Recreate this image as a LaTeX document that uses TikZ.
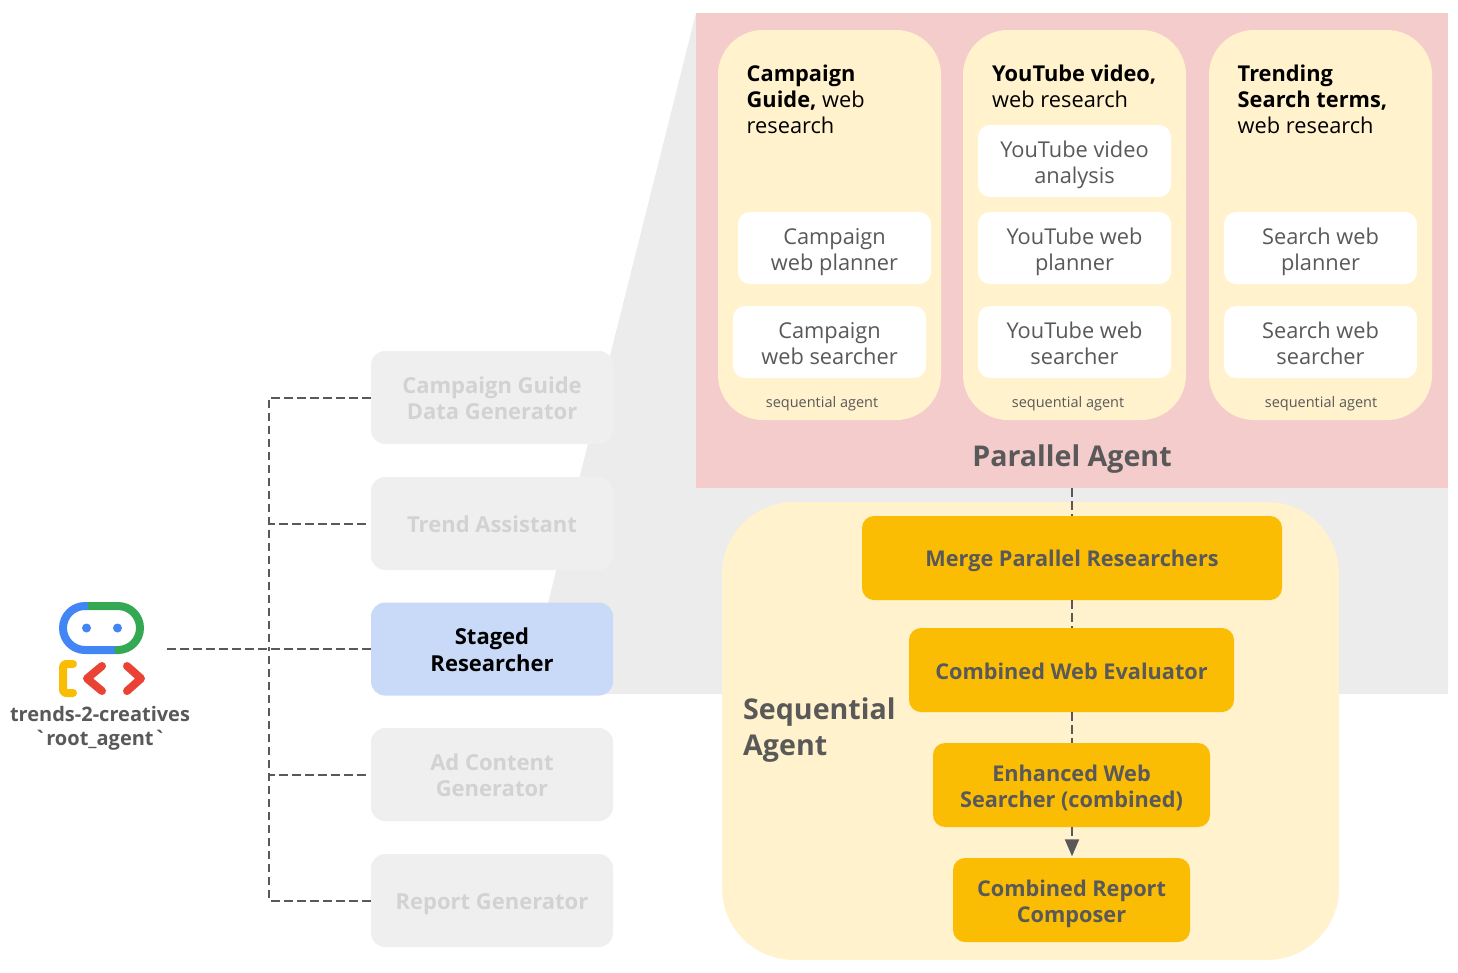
\documentclass[tikz,border=0pt]{standalone}
\usepackage{fontspec}
\setmainfont{Open Sans}
\newfontfamily\rawticks{Open Sans}
\usepackage{tikz}
\usetikzlibrary{arrows.meta,positioning}
\definecolor{inkgray}{HTML}{595959}
\definecolor{fadedink}{HTML}{D2D2D2}
\definecolor{fadedbox}{HTML}{EFEFEF}
\definecolor{bandgray}{HTML}{ECECEC}
\definecolor{parpink}{HTML}{F4CCCC}
\definecolor{seqcream}{HTML}{FFF2CC}
\definecolor{seqamber}{HTML}{FBBC04}
\definecolor{stagedblue}{HTML}{C9DAF8}
\definecolor{logoblue}{HTML}{4285F4}
\definecolor{logogreen}{HTML}{34A853}
\definecolor{logored}{HTML}{EA4335}
\begin{document}
\begin{tikzpicture}[
      x=1pt, y=-1pt,
      box/.style={rounded corners=14pt, align=center, inner sep=0pt,
                  execute at begin node={\rule{0pt}{23pt}},
                  execute at end node={\rule[-5pt]{0pt}{5pt}}},
      twoline/.style={execute at begin node={\rule{0pt}{#1}}},
      twoline/.default=50pt,
      subagent/.style={box, fill=fadedbox, text=fadedink, font=\fontsize{22}{26}\selectfont\bfseries,
                       minimum width=242pt, minimum height=93pt},
      researcher/.style={rounded corners=45pt, fill=seqcream, inner sep=0pt,
                         minimum width=223pt, minimum height=390pt},
      tool/.style={box, twoline, rounded corners=12pt, fill=white, text=inkgray,
                   font=\fontsize{21.8}{26}\selectfont, minimum width=193pt, minimum height=72pt},
      stepbox/.style={box, rounded corners=12pt, fill=seqamber, text=inkgray,
                      font=\fontsize{21.7}{26}\selectfont\bfseries, minimum height=84pt},
      heading/.style={anchor=north west, align=left, inner sep=0pt, text=black,
                      font=\fontsize{21.8}{26}\selectfont},
      tag/.style={text=inkgray, inner sep=0pt, font=\fontsize{14.5}{17}\selectfont},
      title/.style={text=inkgray, inner sep=0pt, font=\fontsize{28.6}{36}\selectfont\bfseries},
      dashline/.style={inkgray, line width=2pt, dash pattern=on 8.5pt off 4.5pt},
      logopen/.style={line width=8pt, line cap=round, line join=round},
    ]
    \useasboundingbox (0,0) rectangle (1458,972);

    % --- grey band behind the zoomed agent ---------------------------------
    \fill[bandgray] (696,13) -- (548,603) -- (548,694) -- (1448,694) -- (1448,488) -- (696,488) -- cycle;

    % --- logo --------------------------------------------------------------
    \draw[logopen, logoblue, line cap=butt, rounded corners=22pt] (88,606) -- (63,606) -- (63,650) -- (119,650);
    \draw[logopen, logogreen, line cap=butt, rounded corners=22pt] (88,606) -- (140,606) -- (140,650) -- (119,650);
    \fill[logoblue] (86.5,628) circle[radius=4.5] (117.5,628) circle[radius=4.5];
    \draw[logopen, seqamber, rounded corners=3pt] (73,664) -- (63,664) -- (63,693) -- (73,693);
    \draw[logopen, logored] (102,666) -- (87,678.5) -- (102,691);
    \draw[logopen, logored] (127,666) -- (141,678.5) -- (127,691);
    \node[text=inkgray, align=center, inner sep=0pt, font=\fontsize{20}{24}\selectfont\rawticks\bfseries] (rootname)
      at (100,728) {trends-2-creatives\\`root\_agent`};

    % --- sub agents of the root ---------------------------------------------
    \node[subagent, twoline=48pt] (guide)  at (492,397.5) {Campaign Guide\\Data Generator};
    \node[subagent] (trend)  at (492,523.5) {Trend Assistant};
    \node[subagent, twoline=50pt, fill=stagedblue, text=black, font=\fontsize{22}{27}\selectfont\bfseries] (staged) at (492,649) {Staged\\Researcher};
    \node[subagent, twoline=48pt] (adgen)  at (492,774.5) {Ad Content\\Generator};
    \node[subagent] (report) at (492,900.5) {Report Generator};

    \coordinate (logoport) at (167,649);
    \coordinate (bus) at (269,649);
    \draw[dashline] (logoport) -- (staged.west);
    \draw[dashline] (guide.west) -| (bus);
    \draw[dashline] (report.west) -| (bus);
    \draw[dashline] ([xshift=-5pt]trend.west) -- (trend.west -| bus);
    \draw[dashline] ([xshift=-5pt]adgen.west) -- (adgen.west -| bus);

    % --- parallel agent ------------------------------------------------------
    \node[fill=parpink, inner sep=0pt, minimum width=752pt, minimum height=475pt] (parallel) at (1072,250.5) {};
    \node[title] (partitle) at (1072,459) {Parallel Agent};

    \node[researcher] (guidecol) at (829.5,225) {};
    \node[researcher] (videocol) at (1074.5,225) {};
    \node[researcher] (searchcol) at (1320.5,225) {};

    \node[heading] (guidehead) at (746.5,65) {\textbf{Campaign}\\\textbf{Guide,} web\\research};
    \node[heading] (videohead) at (992,65) {\textbf{YouTube video,}\\web research};
    \node[heading] (searchhead) at (1237.5,65) {\textbf{Trending}\\\textbf{Search terms,}\\web research};

    \node[tool] (guideplan) at (834.5,248) {Campaign\\web planner};
    \node[tool] (guidesearch) at (829.5,342) {Campaign\\web searcher};
    \node[tool] (videoscan) at (1074.5,161) {YouTube video\\analysis};
    \node[tool] (videoplan) at (1074.5,248) {YouTube web\\planner};
    \node[tool] (videosearch) at (1074.5,342) {YouTube web\\searcher};
    \node[tool] (searchplan) at (1320.5,248) {Search web\\planner};
    \node[tool] (searchsearch) at (1320.5,342) {Search web\\searcher};

    \node[tag] (guidetag) at (822,404) {sequential agent};
    \node[tag] (videotag) at (1068,404) {sequential agent};
    \node[tag] (searchtag) at (1321,404) {sequential agent};

    % --- sequential agent ----------------------------------------------------
    \node[fill=seqcream, rounded corners=72pt, inner sep=0pt, minimum width=617pt, minimum height=458pt] (sequential) at (1030.5,731) {};
    \node[title, anchor=north west, align=left] (seqtitle) at (743,698) {Sequential\\Agent};

    \node[stepbox, minimum width=420pt] (merge) at (1072,558) {Merge Parallel Researchers};
    \node[stepbox, minimum width=325pt] (evaluator) at (1071.5,670) {Combined Web Evaluator};
    \node[stepbox, twoline, minimum width=277pt] (searcher) at (1071.5,785) {Enhanced Web\\Searcher (combined)};
    \node[stepbox, twoline, minimum width=237pt] (composer) at (1071.5,900) {Combined Report\\Composer};

    \draw[dashline] (parallel.south -| merge) -- (merge.north);
    \draw[dashline] (merge.south) -- (evaluator.north -| merge);
    \draw[dashline] (evaluator.south -| merge) -- (searcher.north -| merge);
    \draw[dashline, -{Triangle[length=17pt, width=14pt]}, shorten >=1.5pt] (searcher.south -| merge) -- (composer.north -| merge);
  \end{tikzpicture}
\end{document}
